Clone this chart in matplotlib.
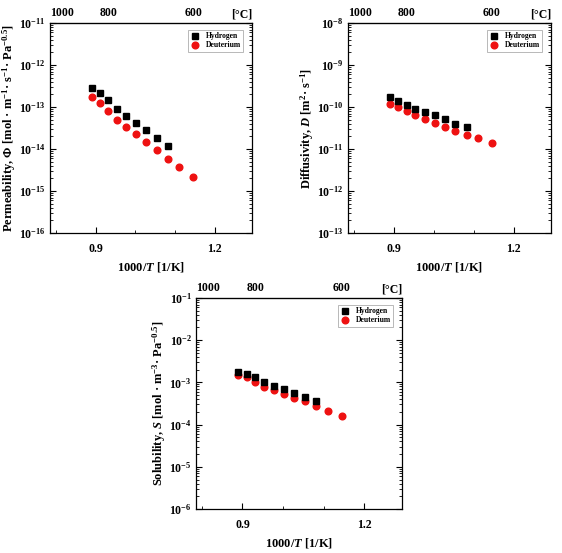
import numpy as np
import matplotlib
matplotlib.use("Agg")
import matplotlib.pyplot as plt
from matplotlib.ticker import FixedLocator, LogLocator, NullFormatter, FixedFormatter

plt.rcParams['font.family'] = ['Liberation Serif', 'DejaVu Serif']
plt.rcParams['font.weight'] = 'bold'
plt.rcParams['axes.labelweight'] = 'bold'
plt.rcParams['mathtext.fontset'] = 'custom'
plt.rcParams['mathtext.rm'] = 'Liberation Serif:weight=bold'
plt.rcParams['mathtext.it'] = 'Liberation Serif:style=italic:weight=bold'
plt.rcParams['mathtext.bf'] = 'Liberation Serif:weight=bold'
plt.rcParams['mathtext.default'] = 'rm'

# 1000/T [1/K], 850 .. 600 degC in 25 degC steps
inv_T_h = [0.890, 0.911, 0.932, 0.954, 0.977, 1.002, 1.027, 1.054, 1.082]
inv_T_d = [0.890, 0.911, 0.932, 0.954, 0.977, 1.002, 1.027, 1.054, 1.082, 1.111, 1.145]

perm_h = [2.86e-13, 2.14e-13, 1.46e-13, 9.1e-14, 6.0e-14, 4.19e-14, 2.81e-14, 1.79e-14, 1.2e-14]
perm_d = [1.72e-13, 1.24e-13, 8.2e-14, 4.93e-14, 3.31e-14, 2.22e-14, 1.44e-14, 9.5e-15, 5.7e-15, 3.63e-15, 2.19e-15]

diff_h = [1.72e-10, 1.39e-10, 1.14e-10, 9.1e-11, 7.6e-11, 6.36e-11, 5.21e-11, 4.04e-11, 3.31e-11]
diff_d = [1.2e-10, 9.8e-11, 7.9e-11, 6.47e-11, 5.12e-11, 4.19e-11, 3.37e-11, 2.71e-11, 2.18e-11, 1.82e-11, 1.41e-11]

sol_h = [1.72e-3, 1.57e-3, 1.31e-3, 1.02e-3, 8.2e-4, 6.83e-4, 5.5e-4, 4.5e-4, 3.69e-4]
sol_d = [1.52e-3, 1.31e-3, 1.04e-3, 7.76e-4, 6.7e-4, 5.4e-4, 4.35e-4, 3.56e-4, 2.71e-4, 2.06e-4, 1.57e-4]

top_ticks_c = [1000, 800, 600]

W, H = 562, 553
fig = plt.figure(figsize=(W / 100, H / 100), dpi=100)


def make_axes(x0, y0, x1, y1):
    return fig.add_axes([x0 / W, 1 - y1 / H, (x1 - x0) / W, (y1 - y0) / H])


def style(ax, ylo, yhi, ylabel):
    ax.set_yscale('log')
    ax.set_xlim(1000 / 1273.15, 1000 / 773.15)
    ax.set_ylim(10.0 ** ylo, 10.0 ** yhi)
    ax.xaxis.set_major_locator(FixedLocator([0.9, 1.2]))
    ax.xaxis.set_minor_locator(FixedLocator([0.8, 1.0, 1.1]))
    ax.xaxis.set_major_formatter(FixedFormatter(['0.9', '1.2']))
    ax.yaxis.set_major_locator(LogLocator(base=10, numticks=20))
    ax.yaxis.set_minor_locator(LogLocator(base=10, subs=np.arange(2, 10), numticks=20))
    ax.yaxis.set_minor_formatter(NullFormatter())
    ax.tick_params(which='both', direction='in', labelsize=8.5, right=True)
    ax.tick_params(which='major', length=4, width=0.8)
    ax.tick_params(which='minor', length=2, width=0.6)
    ax.tick_params(axis='x', which='both', pad=7)
    ax.tick_params(axis='y', which='both', pad=3)
    for s in ax.spines.values():
        s.set_linewidth(0.9)
    ax.set_xlabel('1000/$\\mathit{T}$ [1/K]', fontsize=9, labelpad=4)
    ax.set_ylabel(ylabel, fontsize=9, labelpad=1)

    top = ax.secondary_xaxis('top', functions=(lambda x: 1000 / np.asarray(x) - 273.15,
                                                lambda c: 1000 / (np.asarray(c) + 273.15)))
    top.set_xticks(top_ticks_c)
    labels = top.set_xticklabels([str(c) for c in top_ticks_c])
    labels[0].set_ha('left')  # first label sits inside the left edge
    top.tick_params(direction='in', labelsize=8.5, length=0, pad=3)
    ax.text(1.0, 1.012, '[°C]', transform=ax.transAxes, ha='right', va='bottom', fontsize=8.5)


def draw(ax, xh, yh, xd, yd):
    ax.plot(xh, yh, 's', color='black', markersize=4.2, label='Hydrogen', zorder=3)
    ax.plot(xd, yd, 'o', color='#ee1111', markersize=4.8, label='Deuterium', zorder=2)
    leg = ax.legend(loc='upper right', fontsize=5.5, frameon=True, fancybox=False,
                    borderpad=0.3, handletextpad=0.8, labelspacing=0.15,
                    handlelength=1.2, bbox_to_anchor=(0.957, 0.967), borderaxespad=0)
    leg.get_frame().set_edgecolor('#999999')
    leg.get_frame().set_linewidth(0.6)


ax1 = make_axes(50, 23, 252, 233)
style(ax1, -16, -11, 'Permeability, $\\mathit{\\Phi}$ [mol · m$^{-1}$· s$^{-1}$· Pa$^{-0.5}$]')
draw(ax1, inv_T_h, perm_h, inv_T_d, perm_d)

ax2 = make_axes(348, 23, 551, 233)
style(ax2, -13, -8, 'Diffusivity, $\\mathit{D}$ [m$^{2}$· s$^{-1}$]')
draw(ax2, inv_T_h, diff_h, inv_T_d, diff_d)

ax3 = make_axes(196, 298, 402, 509)
style(ax3, -6, -1, 'Solubility, $\\mathit{S}$ [mol · m$^{-3}$· Pa$^{-0.5}$]')
draw(ax3, inv_T_h, sol_h, inv_T_d, sol_d)

fig.savefig('out.png', dpi=100)
